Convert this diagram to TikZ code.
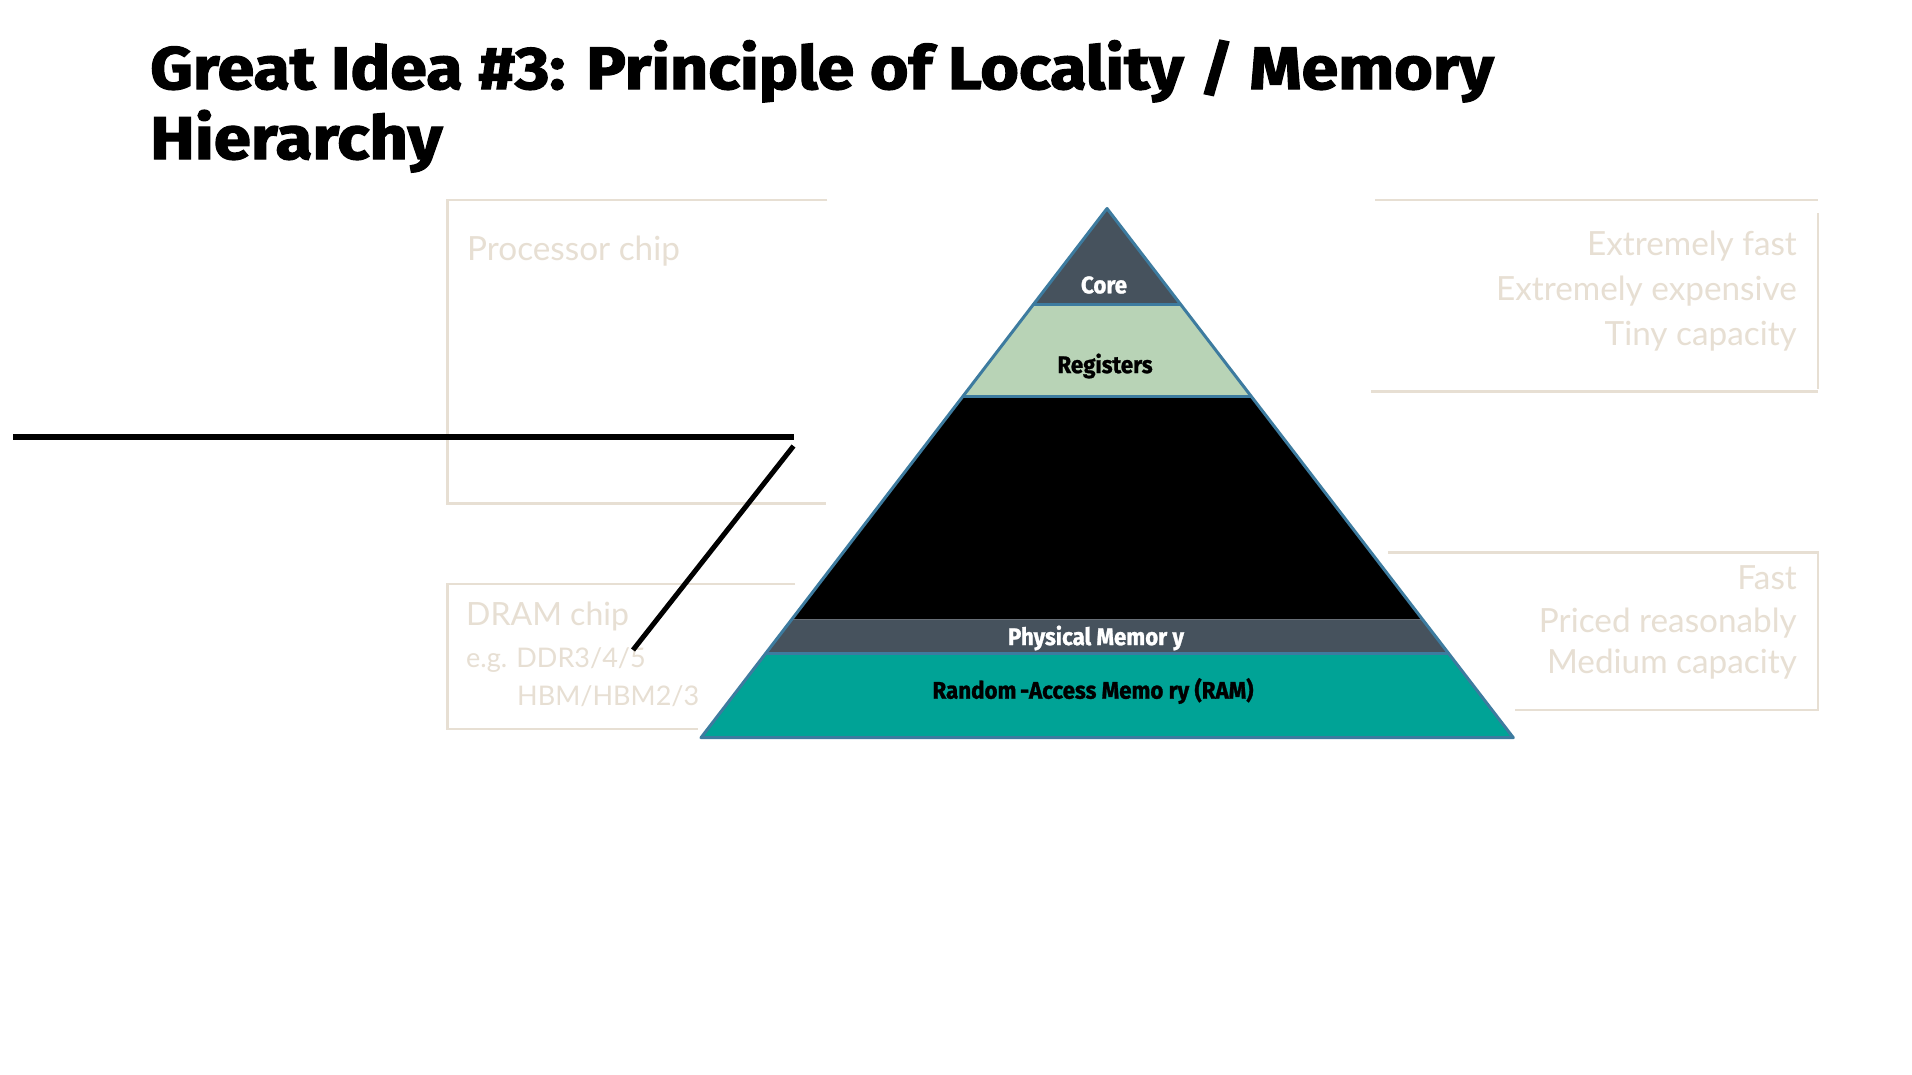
\documentclass[tikz,border=0pt]{standalone}
\usepackage{fontspec}
\usetikzlibrary{calc}
\setmainfont{Lato}
\newfontfamily\titlefont{Fira Sans}[BoldFeatures={FakeBold=2}]
\newfontfamily\tierfont{Fira Sans}[BoldFeatures={FakeBold=1.2}]

\definecolor{pale}{HTML}{E7DFD3}
\definecolor{slate}{HTML}{46525D}
\definecolor{sage}{HTML}{B8D3B6}
\definecolor{ramteal}{HTML}{00A396}
\definecolor{rim}{HTML}{3D7B9F}

\tikzset{
  outline/.style={draw=pale, line width=2.5pt},
  note/.style={text=pale, font=\fontsize{33.3}{33.3}\selectfont, inner sep=0pt},
  smallnote/.style={text=pale, font=\fontsize{27}{27}\selectfont, inner sep=0pt},
  tier/.style={font=\tierfont\bfseries\fontsize{24}{24}\selectfont, inner sep=0pt},
  wire/.style={draw=black, line width=6pt},
  rimline/.style={draw=rim, line width=3pt, line join=round},
}

\begin{document}
\begin{tikzpicture}[x=1pt, y=-1pt]
  \path[use as bounding box, fill=white] (0,0) rectangle (1912,1074);

  % heading
  \node[anchor=base west, inner sep=0pt] (title1) at (150,89)
    {\resizebox{1343pt}{49pt}{\titlefont\bfseries Great Idea \#3: Principle of Locality / Memory}};
  \node[anchor=base west, inner sep=0pt] (title2) at (150,159)
    {\resizebox{292pt}{49pt}{\titlefont\bfseries Hierarchy}};

  % faint frames
  \coordinate (pc-tr) at (827,200);   \coordinate (pc-tl) at (447.5,200);
  \coordinate (pc-bl) at (447.5,503.5); \coordinate (pc-br) at (826,503.5);
  \draw[outline] (pc-tr) -- (pc-tl) -- (pc-bl) -- (pc-br);

  \coordinate (dr-tr) at (795,584);   \coordinate (dr-tl) at (447.5,584);
  \coordinate (dr-bl) at (447.5,729); \coordinate (dr-br) at (698,729);
  \draw[outline] (dr-tr) -- (dr-tl) -- (dr-bl) -- (dr-br);

  \coordinate (fa-tl) at (1375,200);  \coordinate (fa-tr) at (1818,200);
  \coordinate (fa-rt) at (1818,213);  \coordinate (fa-rb) at (1818,389);
  \coordinate (fa-bl) at (1371,391.5); \coordinate (fa-br) at (1818,391.5);
  \draw[outline] (fa-tl) -- (fa-tr) (fa-rt) -- (fa-rb) (fa-bl) -- (fa-br);

  \coordinate (md-tl) at (1388,552.4); \coordinate (md-tr) at (1818,552.4);
  \coordinate (md-br) at (1818,710);   \coordinate (md-bl) at (1515,710);
  \draw[outline] (md-tl) -- (md-tr) -- (md-br) -- (md-bl);

  % faint captions
  \node[note, anchor=base west] (proc) at (467,260) {Processor chip};
  \node[note, anchor=base west, font=\fontsize{32}{32}\selectfont] (dram) at (466,625) {DRAM chip};
  \node[smallnote, anchor=base west] (ddr) at (466,667) {e.g. DDR3/4/5};
  \node[smallnote, anchor=base west] (hbm) at (517,705) {HBM/HBM2/3};

  \node[note, anchor=base east] (f1) at (1797,255) {Extremely fast};
  \node[note, anchor=base east] (f2) at (1797,300) {Extremely expensive};
  \node[note, anchor=base east] (f3) at (1797,345) {Tiny capacity};

  \node[note, anchor=base east] (m1) at (1797,589) {Fast};
  \node[note, anchor=base east] (m2) at (1797,632) {Priced reasonably};
  \node[note, anchor=base east] (m3) at (1797,673) {Medium capacity};

  % pyramid
  \coordinate (apex) at (1107,208.5);
  \coordinate (bl) at (701,737.7);
  \coordinate (br) at (1513.3,737.7);
  \foreach \n/\t in {1/0.1822,2/0.3549,3/0.7766,4/0.8411}{
    \coordinate (l\n) at ($(apex)!\t!(bl)$);
    \coordinate (r\n) at ($(apex)!\t!(br)$);
  }
  \fill[slate]   (apex) -- (r1) -- (l1) -- cycle;
  \fill[sage]    (l1) -- (r1) -- (r2) -- (l2) -- cycle;
  \fill[black]   (l2) -- (r2) -- (r3) -- (l3) -- cycle;
  \fill[slate]   (l3) -- (r3) -- (r4) -- (l4) -- cycle;
  \fill[ramteal] (l4) -- (r4) -- (br) -- (bl) -- cycle;
  \draw[rimline] (l1) -- (r1) (l2) -- (r2) (l4) -- (r4);
  \draw[rimline] (apex) -- (br) -- (bl) -- cycle;

  \node[tier, text=white] (core) at (1104,285) {\scalebox{0.93}[1]{Core}};
  \node[tier] (regs) at (1105,366) {\scalebox{0.93}[1]{Registers}};
  \node[tier, text=white] (phys) at (1096,638) {\scalebox{0.93}[1]{Physical Memor y}};
  \node[tier] (ram) at (1093,691) {\scalebox{0.93}[1]{Random\,-Access Memo ry (RAM)}};

  % black strokes
  \coordinate (w0) at (13,436.5);
  \coordinate (w1) at (793.5,436.5);
  \coordinate (w2) at (793.5,446);
  \coordinate (w3) at (633,650);
  \draw[wire] (w0) -- (w1);
  \draw[wire, line width=5pt] (w2) -- (w3);
\end{tikzpicture}
\end{document}
